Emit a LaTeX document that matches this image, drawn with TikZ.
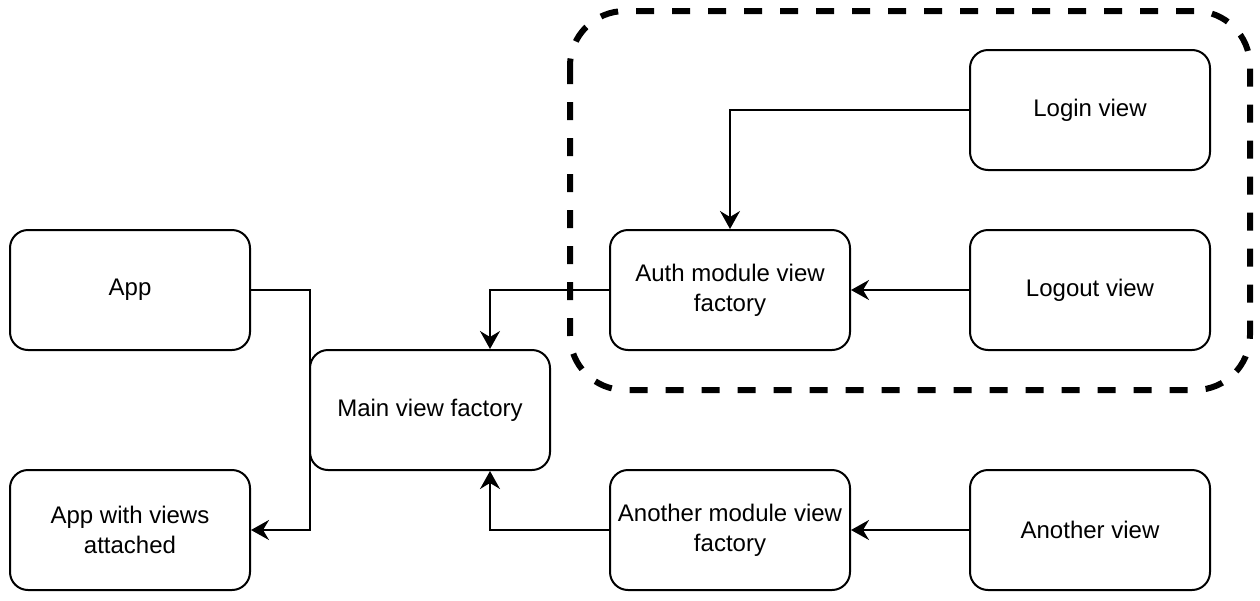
\documentclass[tikz,border=0pt]{standalone}
\usepackage{fontspec}
\setmainfont{Liberation Sans}
\usetikzlibrary{arrows.meta}
\begin{document}
\begin{tikzpicture}[x=1pt,y=-1pt,
  box/.style={draw=black,line width=2pt,rounded corners=18pt,minimum width=240pt,minimum height=120pt,
    align=center,inner sep=0pt,font=\fontsize{24}{30}\selectfont},
  conn/.style={draw=black,line width=2pt,-{Stealth[length=18pt,width=20pt,inset=6pt]}},
  group/.style={draw=black,line width=6pt,dash pattern=on 18pt off 18pt,rounded corners=55pt}]
\useasboundingbox (0,0) rectangle (1260,600);
\draw[group] (570,11) rectangle (1250,390);
\node[box] (app) at (130,290) {App};
\node[box] (appv) at (130,530) {App with views\\attached};
\node[box] (main) at (430,410) {Main view factory};
\node[box] (auth) at (730,290) {Auth module view\\factory};
\node[box] (another) at (730,530) {Another module view\\factory};
\node[box] (login) at (1090,110) {Login view};
\node[box] (logout) at (1090,290) {Logout view};
\node[box] (anotherv) at (1090,530) {Another view};
\draw[conn] (app.east) -- (310,290) -- (310,530) -- (appv.east);
\draw[conn] (auth.west) -| ([xshift=60pt]main.north);
\draw[conn] (another.west) -| ([xshift=60pt]main.south);
\draw[conn] (login.west) -| (auth.north);
\draw[conn] (logout.west) -- (auth.east);
\draw[conn] (anotherv.west) -- (another.east);
\end{tikzpicture}
\end{document}
